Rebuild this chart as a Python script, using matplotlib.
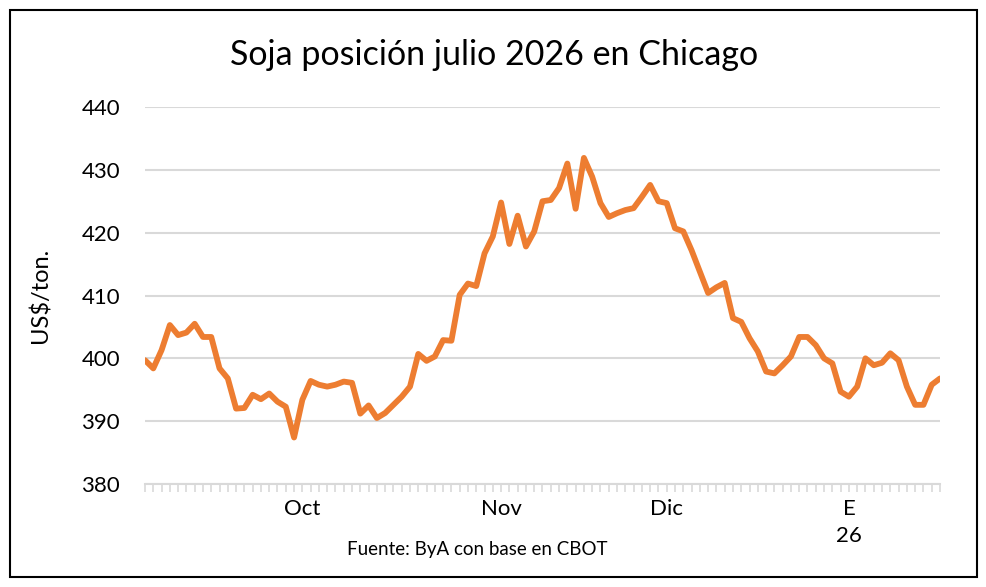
import matplotlib
matplotlib.use('Agg')
import matplotlib.pyplot as plt
from matplotlib.patches import Rectangle

# cotizaciones diarias, US$/ton
prices = [399.7, 398.4, 401.3, 405.3, 403.7, 404.1, 405.5, 403.4, 403.4, 398.4,
          396.8, 392.0, 392.1, 394.2, 393.5, 394.4, 393.1, 392.3, 387.4, 393.4,
          396.4, 395.8, 395.5, 395.8, 396.3, 396.1, 391.2, 392.5, 390.5, 391.3,
          392.6, 393.9, 395.5, 400.7, 399.6, 400.3, 402.9, 402.8, 410.1, 411.9,
          411.5, 416.7, 419.4, 424.8, 418.2, 422.7, 417.8, 420.2, 425.0, 425.2,
          427.1, 431.0, 423.8, 431.9, 428.9, 424.7, 422.5, 423.1, 423.6, 423.9,
          425.7, 427.6, 425.0, 424.7, 420.7, 420.2, 417.2, 413.8, 410.4, 411.3,
          412.0, 406.4, 405.8, 403.2, 401.1, 397.9, 397.6, 398.9, 400.3, 403.4,
          403.4, 402.1, 400.0, 399.2, 394.7, 393.9, 395.5, 400.0, 398.9, 399.3,
          400.8, 399.7, 395.5, 392.6, 392.6, 395.8, 396.8]
label_idx = [19, 43, 63, 85]
label_txt = ['Oct', 'Nov', 'Dic', 'E\n26']
yticks = [380, 390, 400, 410, 420, 430, 440]

font = 'Lato'
fig = plt.figure(figsize=(9.87, 5.87), dpi=100)
ax = fig.add_axes([145/987, 1 - 484/587, 795/987, 377/587])

ax.plot(range(len(prices)), prices, color='#ED7D31', linewidth=4.2,
        solid_joinstyle='round', solid_capstyle='round')

ax.set_xlim(0, len(prices) - 1)
ax.set_ylim(380, 440)
ax.set_yticks(yticks)
ax.set_yticklabels([str(v) for v in yticks], fontsize=16, family=font)
ax.tick_params(axis='y', length=0, pad=18)
ax.grid(axis='y', color='#D9D9D9', linewidth=1.5)
ax.set_axisbelow(True)

# ticks de categoría en cada dato
ax.set_xticks(range(len(prices)), minor=True)
ax.set_xticks(label_idx)
ax.set_xticklabels(label_txt, fontsize=16, family=font, linespacing=1.45)
ax.tick_params(axis='x', which='both', length=6, color='#D9D9D9', width=1.2)
ax.tick_params(axis='x', which='major', pad=5)

for s in ['top', 'right', 'left']:
    ax.spines[s].set_visible(False)
ax.spines['bottom'].set_color('#D9D9D9')
ax.spines['bottom'].set_linewidth(1.5)

ax.set_ylabel('US$/ton.', fontsize=17, family=font)
ax.yaxis.set_label_coords(-0.118, 0.5)

fig.text(494/987, 1 - 55/587, 'Soja posición julio 2026 en Chicago',
         ha='center', va='center', fontsize=24.5, family=font)
fig.text(477/987, 1 - 549/587, 'Fuente: ByA con base en CBOT',
         ha='center', va='center', fontsize=13.5, family=font)

fig.patches.append(Rectangle((10/987, 1 - 577/587), 967/987, 567/587,
                             transform=fig.transFigure, fill=False,
                             edgecolor='black', linewidth=1.5))

fig.savefig('out.png', dpi=100, facecolor='white')
